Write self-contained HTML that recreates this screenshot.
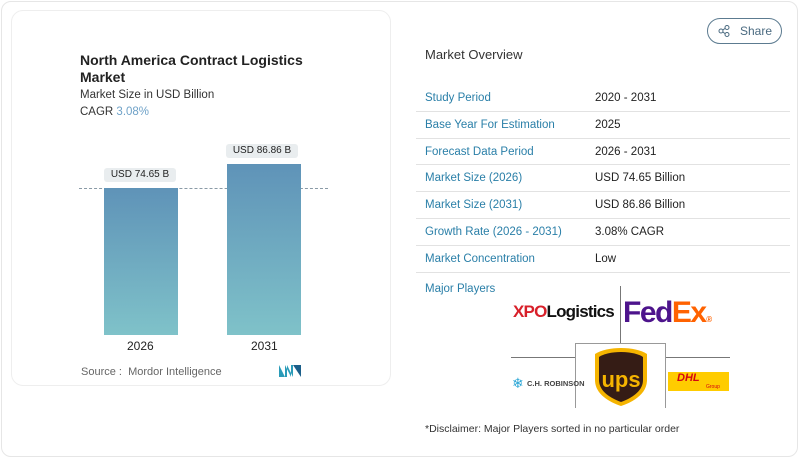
<!DOCTYPE html>
<html><head><meta charset="utf-8"><style>
*{margin:0;padding:0;box-sizing:border-box}
body{width:800px;height:459px;background:#fff;font-family:"Liberation Sans",sans-serif;position:relative;overflow:hidden}
.a{position:absolute;white-space:nowrap}
.k{color:#2a7fa8;font-size:11.5px}
.v{color:#222;font-size:11.5px;left:595px}
.sep{position:absolute;left:416px;width:374px;height:1px;background:#e2e2e2}
</style></head><body>
<div class="a" style="left:1px;top:1px;width:797px;height:456px;border:1px solid #e6e6e6;border-radius:10px"></div>
<div class="a" style="left:11px;top:10px;width:380px;height:376px;border:1px solid #eeeeee;border-radius:12px;background:#fff"></div>
<div class="a" style="left:80px;top:52px;font-size:14px;font-weight:bold;color:#222;line-height:17px">North America Contract Logistics<br>Market</div>
<div class="a" style="left:80px;top:89px;font-size:11.5px;color:#333">Market Size in USD Billion</div>
<div class="a" style="left:80px;top:106px;font-size:11.5px;color:#333">CAGR <span style="color:#6fa2c8">3.08%</span></div>
<div class="a" style="left:79px;top:188px;width:249px;border-top:1px dashed #8a9aa6"></div>
<div class="a" style="left:104px;top:188px;width:74px;height:147px;background:linear-gradient(#5f93b8,#7fc2c9)"></div>
<div class="a" style="left:227px;top:164px;width:74px;height:171px;background:linear-gradient(#5f93b8,#7fc2c9)"></div>
<div class="a" style="left:104px;top:168px;width:72px;height:14px;background:#e9edef;border-radius:3px;font-size:10px;text-align:center;line-height:14px;color:#222">USD 74.65 B</div>
<div class="a" style="left:226px;top:144px;width:72px;height:14px;background:#e9edef;border-radius:3px;font-size:10px;text-align:center;line-height:14px;color:#222">USD 86.86 B</div>
<div class="a" style="left:127px;top:339px;font-size:12px;color:#222">2026</div>
<div class="a" style="left:251px;top:339px;font-size:12px;color:#222">2031</div>
<div class="a" style="left:81px;top:366px;font-size:11px;color:#666">Source :&nbsp; Mordor Intelligence</div>
<svg class="a" style="left:279px;top:365px" width="22" height="12"><path d="M0 12V0l6 12V0l6 12V0h2v12L8 0v12z" fill="#2a9bb8"/><path d="M14 0l8 12V0z" fill="#1b5f8a"/></svg>
<div class="a" style="left:707px;top:18px;width:75px;height:26px;border:1px solid #5c7b90;border-radius:13px;font-size:12px;color:#4a6a80;line-height:24px;padding-left:32px">Share</div>
<svg class="a" style="left:718px;top:25px" width="12" height="12"><circle cx="3" cy="6" r="2" fill="none" stroke="#4a6a80"/><circle cx="9" cy="2.5" r="2" fill="none" stroke="#4a6a80"/><circle cx="9" cy="9.5" r="2" fill="none" stroke="#4a6a80"/><path d="M4.7 5L7.3 3.3M4.7 7L7.3 8.7" stroke="#4a6a80"/></svg>
<div class="a" style="left:425px;top:47px;font-size:13px;color:#333">Market Overview</div>
<div class="a k" style="left:425px;top:92px">Study Period</div><div class="a v" style="top:92px">2020 - 2031</div>
<div class="sep" style="top:111px"></div>
<div class="a k" style="left:425px;top:119px">Base Year For Estimation</div><div class="a v" style="top:119px">2025</div>
<div class="sep" style="top:138px"></div>
<div class="a k" style="left:425px;top:146px">Forecast Data Period</div><div class="a v" style="top:146px">2026 - 2031</div>
<div class="sep" style="top:164px"></div>
<div class="a k" style="left:425px;top:172px">Market Size (2026)</div><div class="a v" style="top:172px">USD 74.65 Billion</div>
<div class="sep" style="top:191px"></div>
<div class="a k" style="left:425px;top:199px">Market Size (2031)</div><div class="a v" style="top:199px">USD 86.86 Billion</div>
<div class="sep" style="top:218px"></div>
<div class="a k" style="left:425px;top:226px">Growth Rate (2026 - 2031)</div><div class="a v" style="top:226px">3.08% CAGR</div>
<div class="sep" style="top:245px"></div>
<div class="a k" style="left:425px;top:253px">Market Concentration</div><div class="a v" style="top:253px">Low</div>
<div class="sep" style="top:272px"></div>
<div class="a k" style="left:425px;top:283px">Major Players</div>
<div class="a" style="left:620px;top:286px;width:1px;height:57px;background:#777"></div>
<div class="a" style="left:511px;top:357px;width:65px;height:1px;background:#777"></div>
<div class="a" style="left:665px;top:357px;width:65px;height:1px;background:#777"></div>
<div class="a" style="left:575px;top:343px;width:91px;height:65px;border:1px solid #999;border-bottom:none"></div>
<div class="a" style="left:513px;top:302px;font-size:17px;font-weight:bold;letter-spacing:-0.8px"><span style="color:#d8202a">XPO</span><span style="color:#111">Logistics</span></div>
<div class="a" style="left:623px;top:296px;font-size:30px;font-weight:bold;letter-spacing:-1.5px"><span style="color:#4d148c">Fed</span><span style="color:#ff6200">Ex</span><span style="font-size:8px;color:#ff6200"> ®</span></div>
<svg class="a" style="left:593px;top:347px" width="56" height="60"><path d="M28 1C18 1 8 3 2 7v26c0 14 14 22 26 26 12-4 26-12 26-26V7C48 3 38 1 28 1z" fill="#f5b400"/><path d="M28 5C19 5 10 7 6 10v23c0 11 11 18 22 22 11-4 22-11 22-22V10C46 7 37 5 28 5z" fill="#351c15"/><text x="28" y="40" text-anchor="middle" font-family="Liberation Sans" font-weight="bold" font-size="22" fill="#f5b400">ups</text></svg>
<div class="a" style="left:512px;top:375px;font-size:14px;color:#2ba6d6">❄</div>
<div class="a" style="left:527px;top:379px;font-size:7.5px;color:#444;font-weight:bold">C.H. ROBINSON</div>
<div class="a" style="left:668px;top:372px;width:61px;height:19px;background:#ffcc00"></div>
<div class="a" style="left:677px;top:372px;font-size:11px;font-weight:bold;font-style:italic;color:#d40511">DHL</div>
<div class="a" style="left:706px;top:384px;font-size:5px;color:#d40511">Group</div>
<div class="a" style="left:425px;top:423px;font-size:10.5px;color:#333">*Disclaimer: Major Players sorted in no particular order</div>
</body></html>
